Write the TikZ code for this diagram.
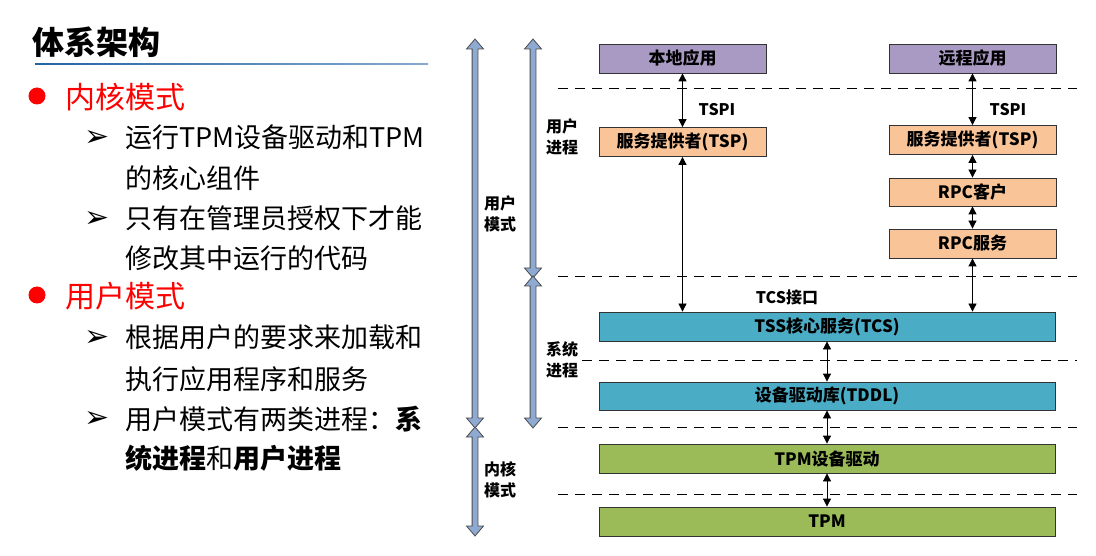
\documentclass[tikz,border=0pt]{standalone}
\usepackage{fontspec}
\setmainfont{Noto Sans CJK SC}
\newfontfamily\symfont{DejaVu Sans}
\usetikzlibrary{arrows.meta, positioning, calc}

\definecolor{appviolet}{HTML}{A99AC4}
\definecolor{tsppeach}{HTML}{F9C498}
\definecolor{tssblue}{HTML}{4BACC6}
\definecolor{tpmgreen}{HTML}{9BBB59}
\definecolor{barblue}{HTML}{8FAAD2}
\definecolor{ruleblue}{HTML}{2464A4}

% blocky double arrow: x, top tip, bottom tip
\newcommand{\modebar}[3]{%
  \draw[modebar] (#1-2.9,#2+10) -- (#1-8.5,#2+10) -- (#1,#2) -- (#1+8.5,#2+10) -- (#1+2.9,#2+10)
    -- (#1+2.9,#3-10) -- (#1+8.5,#3-10) -- (#1,#3) -- (#1-8.5,#3-10) -- (#1-2.9,#3-10) -- cycle;}

\begin{document}
\begin{tikzpicture}[
    x=1pt, y=-1pt,
    layerbox/.style={draw=black!80, line width=0.8pt, minimum height=29pt, inner sep=0pt, font=\fontsize{17}{20}\selectfont\bfseries},
    app/.style={layerbox, fill=appviolet, minimum width=167pt},
    tsp/.style={layerbox, fill=tsppeach, minimum width=167pt},
    tss/.style={layerbox, fill=tssblue, minimum width=456pt},
    tpm/.style={layerbox, fill=tpmgreen, minimum width=456pt},
    link/.style={line width=0.8pt, {Triangle[length=8pt,width=8pt]}-{Triangle[length=8pt,width=8pt]}},
    divider/.style={dash pattern=on 10pt off 7pt, line width=1pt},
    tag/.style={font=\fontsize{16}{21}\selectfont\bfseries, align=left, inner sep=0pt},
    modebar/.style={draw=black!70, fill=barblue, line width=0.8pt},
    heading/.style={anchor=west, inner sep=0pt, text=red, font=\fontsize{30}{36}\selectfont},
    itemline/.style={anchor=west, inner sep=0pt, font=\fontsize{27}{32}\selectfont},
    pointer/.style={inner sep=0pt, font=\symfont\fontsize{30}{32}\selectfont}
]
    \useasboundingbox (0,0) rectangle (1096,556);
    \fill[white] (0,0) rectangle (1096,556);

    % Left: text
    \node[anchor=west, inner sep=0pt, font=\fontsize{32}{38}\selectfont\bfseries] (title) at (32,42) {体系架构};
    \shade[left color=ruleblue, right color=ruleblue!55] (35,63.3) rectangle (428,64.7);

    \fill[red] (37,96) circle (8.5);
    \node[heading] (kernel) at (65,97) {内核模式};
    \node[pointer] (p1) at (97,139) {➢};
    \node[itemline] (l1) at (125,137) {运行TPM设备驱动和TPM};
    \node[itemline] (l2) at (125,178) {的核心组件};
    \node[pointer] (p2) at (97,220) {➢};
    \node[itemline] (l3) at (125,218) {只有在管理员授权下才能};
    \node[itemline] (l4) at (125,258) {修改其中运行的代码};

    \fill[red] (37,295) circle (8.5);
    \node[heading] (user) at (65,296) {用户模式};
    \node[pointer] (p3) at (97,339) {➢};
    \node[itemline] (l5) at (125,337) {根据用户的要求来加载和};
    \node[itemline] (l6) at (125,379) {执行应用程序和服务};
    \node[pointer] (p4) at (97,420) {➢};
    \node[itemline] (l7) at (125,419) {用户模式有两类进程：\textbf{系}};
    \node[itemline] (l8) at (125,458) {\textbf{统进程}和\textbf{用户进程}};

    % Right: mode bars
    \modebar{475}{39}{428}
    \modebar{475}{427}{536}
    \modebar{533}{39}{278}
    \modebar{533}{276}{428}
    \node[tag] (usermode) at (500,214) {用户\\模式};
    \node[tag] (kernmode) at (500,480) {内核\\模式};
    \node[tag] (userproc) at (562,137) {用户\\进程};
    \node[tag] (sysproc) at (562,360) {系统\\进程};

    % Separators
    \draw[divider] (558,89) -- (1077,89);
    \draw[divider] (558,277) -- (1077,277);
    \draw[divider] (582,360) -- (1077,360);
    \draw[divider] (558,427) -- (1077,427);
    \draw[divider] (558,494) -- (1077,494);

    % Boxes
    \node[app] (local) at (682.5,58.5) {本地应用};
    \node[app] (remote) at (972.5,58.5) {远程应用};
    \node[tsp] (tspL) at (682.5,142) {服务提供者(TSP)};
    \node[tsp] (tspR) at (972.5,140) {服务提供者(TSP)};
    \node[tsp, minimum height=28pt] (rpcc) at (972.5,192) {RPC客户};
    \node[tsp] (rpcs) at (972.5,243.5) {RPC服务};
    \node[tss] (tcs) at (827,326.5) {TSS核心服务(TCS)};
    \node[tss, minimum height=28pt] (tddl) at (827,396) {设备驱动库(TDDL)};
    \node[tpm] (drv) at (827,458.5) {TPM设备驱动};
    \node[tpm] (tpm) at (827,521.5) {TPM};

    % Interface labels
    \node[tag] (tspiL) at (717,110) {TSPI};
    \node[tag] (tspiR) at (1008,110) {TSPI};
    \node[tag] (tcsif) at (787,297) {TCS接口};

    % Connections
    \draw[link] (local) -- (tspL);
    \draw[link] (tspL) -- (tspL.south |- tcs.north);
    \draw[link] (remote) -- (tspR);
    \draw[link] (tspR) -- (rpcc);
    \draw[link] (rpcc) -- (rpcs);
    \draw[link] (rpcs) -- (rpcs.south |- tcs.north);
    \draw[link] (tcs) -- (tddl);
    \draw[link] (tddl) -- (drv);
    \draw[link] (drv) -- (tpm);
\end{tikzpicture}
\end{document}
